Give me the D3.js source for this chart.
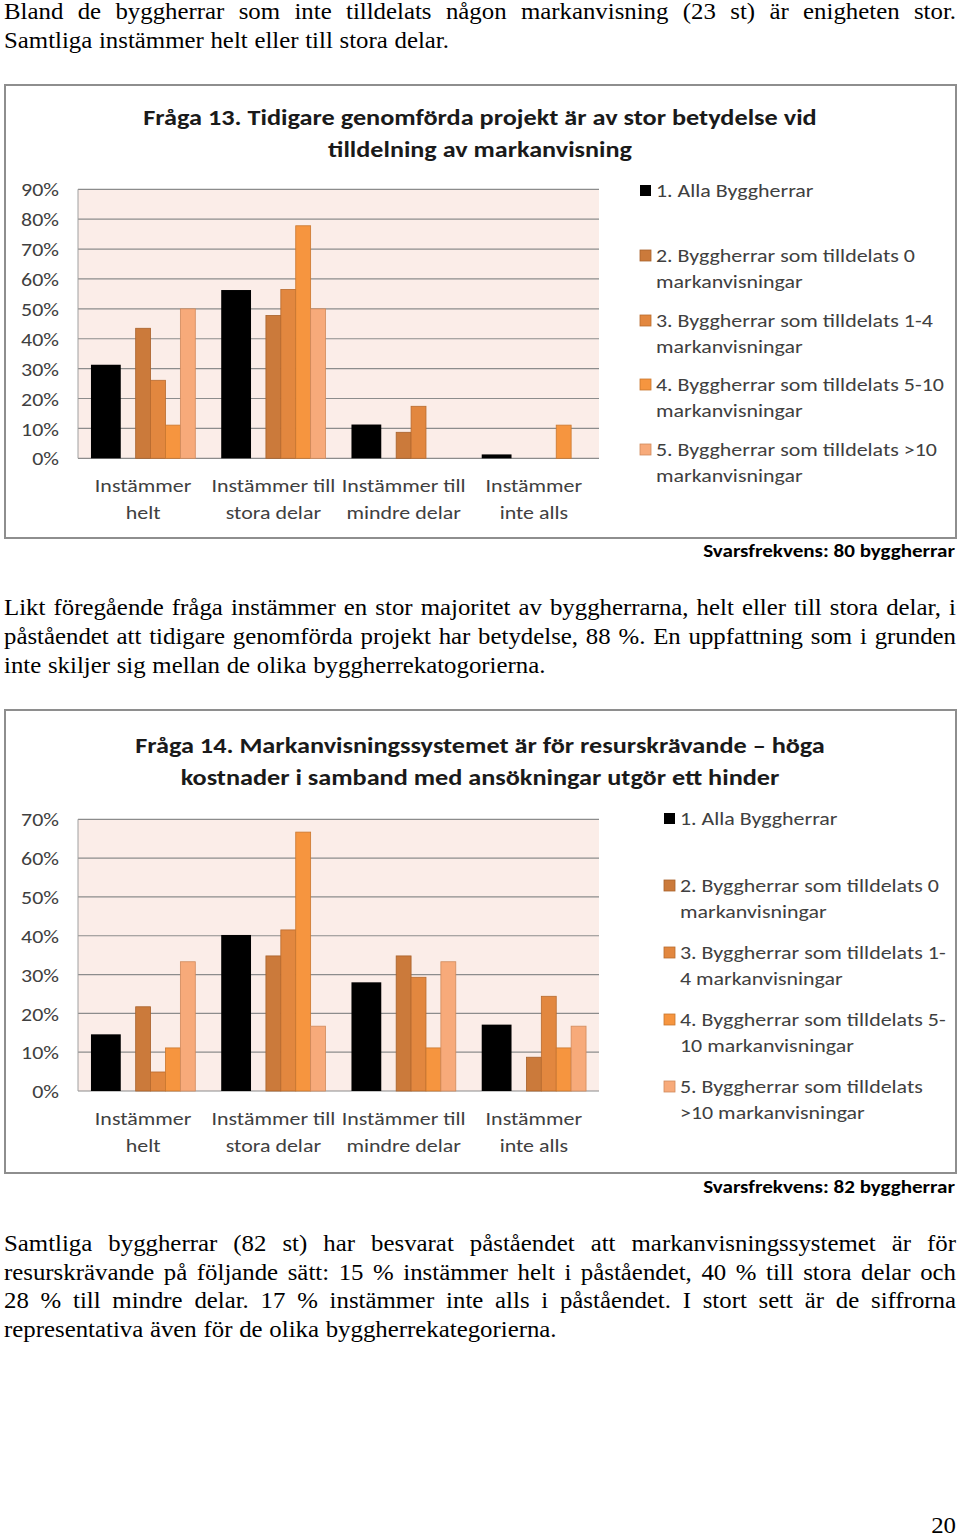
<!DOCTYPE html>
<html><head><meta charset="utf-8">
<script src="https://cdn.jsdelivr.net/npm/d3@7"></script>
<style>
html,body{margin:0;padding:0;background:#fff;}
svg{display:block;}
</style></head>
<body>
<svg id="page" width="960" height="1537"></svg>
<script>
// ---------- DATA ----------
const categoryLines = [["Instämmer","helt"],["Instämmer till","stora delar"],["Instämmer till","mindre delar"],["Instämmer","inte alls"]];
const categories = ["helt","stora","mindre","inte"];
const seriesNames = ["1. Alla Byggherrar","2. Byggherrar som tilldelats 0 markanvisningar","3. Byggherrar som tilldelats 1-4 markanvisningar","4. Byggherrar som tilldelats 5-10 markanvisningar","5. Byggherrar som tilldelats >10 markanvisningar"];

// Fråga 13 (percent)
const q13_alla   = [31.3, 56.3, 11.3, 1.3];
const q13_s0     = [43.5, 47.8, 8.7, 0];
const q13_s1_4   = [26.1, 56.5, 17.4, 0];
const q13_s5_10  = [11.1, 77.8, 0, 11.1];
const q13_s10    = [50, 50, 0, 0];
const q13_ticks  = ["0%","10%","20%","30%","40%","50%","60%","70%","80%","90%"];
const q13_title  = ["Fråga 13. Tidigare genomförda projekt är av stor betydelse vid","tilldelning av markanvisning"];
const q13_legend = [["1. Alla Byggherrar"],["2. Byggherrar som tilldelats 0","markanvisningar"],["3. Byggherrar som tilldelats 1-4","markanvisningar"],["4. Byggherrar som tilldelats 5-10","markanvisningar"],["5. Byggherrar som tilldelats >10","markanvisningar"]];
const q13_note   = "Svarsfrekvens: 80 byggherrar";

// Fråga 14 (percent)
const q14_alla   = [14.6, 40.2, 28.0, 17.1];
const q14_s0     = [21.7, 34.8, 34.8, 8.7];
const q14_s1_4   = [4.9, 41.5, 29.3, 24.4];
const q14_s5_10  = [11.1, 66.7, 11.1, 11.1];
const q14_s10    = [33.3, 16.7, 33.3, 16.7];
const q14_ticks  = ["0%","10%","20%","30%","40%","50%","60%","70%"];
const q14_title  = ["Fråga 14. Markanvisningssystemet är för resurskrävande – höga","kostnader i samband med ansökningar utgör ett hinder"];
const q14_legend = [["1. Alla Byggherrar"],["2. Byggherrar som tilldelats 0","markanvisningar"],["3. Byggherrar som tilldelats 1-","4 markanvisningar"],["4. Byggherrar som tilldelats 5-","10 markanvisningar"],["5. Byggherrar som tilldelats",">10 markanvisningar"]];
const q14_note   = "Svarsfrekvens: 82 byggherrar";

const para1 = [
  {t:"Bland de byggherrar som inte tilldelats någon markanvisning (23 st) är enigheten stor.", j:true},
  {t:"Samtliga instämmer helt eller till stora delar.", j:false}];
const para2 = [
  {t:"Likt föregående fråga instämmer en stor majoritet av byggherrarna, helt eller till stora delar, i", j:true},
  {t:"påståendet att tidigare genomförda projekt har betydelse, 88 %. En uppfattning som i grunden", j:true},
  {t:"inte skiljer sig mellan de olika byggherrekatogorierna.", j:false}];
const para3 = [
  {t:"Samtliga byggherrar (82 st) har besvarat påståendet att markanvisningssystemet är för", j:true},
  {t:"resurskrävande på följande sätt: 15 % instämmer helt i påståendet, 40 % till stora delar och", j:true},
  {t:"28 % till mindre delar. 17 % instämmer inte alls i påståendet. I stort sett är de siffrorna", j:true},
  {t:"representativa även för de olika byggherrekategorierna.", j:false}];
const pageNumber = "20";

// ---------- STYLE ----------
const colors = ["#000000","#CB7A3B","#E2873F","#F6953F","#F7AA7A"];
const strokes = ["#000000","#A8612B","#B86B2F","#C9772F","#D08A5C"];
const serif = "'Liberation Serif','Times New Roman',serif";
const sans = "Carlito, Calibri, Lato, 'Open Sans', sans-serif";
const bodySize = 23, bodySX = 1.08;
const chartSize = 19, chartSX = 1.155;

const svg = d3.select("#page");

function stext(parent, x, y, str, o){
  return parent.append("text")
    .attr("transform",`translate(${x},${y}) scale(${o.sx||1},1)`)
    .attr("font-family",o.family).attr("font-size",o.size)
    .attr("font-weight",o.weight||"normal").attr("fill",o.fill||"#000")
    .attr("text-anchor",o.anchor||"start").text(str);
}

// ---------- BODY TEXT ----------
function drawPara(lines, baseline0, lh){
  lines.forEach((ln,i)=>{
    const y = baseline0 + i*lh;
    const words = ln.t.split(" ");
    const g = svg.append("g");
    const nodes = words.map(w=> stext(g,0,y,w,{family:serif,size:bodySize,sx:bodySX}));
    const widths = nodes.map(n=>n.node().getComputedTextLength()*bodySX);
    const total = d3.sum(widths);
    const left = 4, right = 956;
    let gap = bodySize*0.27*bodySX;
    if (ln.j && words.length>1) gap = (right-left-total)/(words.length-1);
    let x = left;
    nodes.forEach((n,k)=>{ n.attr("transform",`translate(${x},${y}) scale(${bodySX},1)`); x += widths[k]+gap; });
  });
}
drawPara(para1, 19, 28.7);
drawPara(para2, 615, 29);
drawPara(para3, 1251, 28.7);
stext(svg, 956, 1533, pageNumber, {family:serif,size:bodySize,sx:bodySX,anchor:"end"});

// ---------- CHART ----------
function drawChart(cfg){
  const {box, plotTop, plotBottom, maxV, ticks, title, titleY, titleW, legend, legendX, legendY, note, noteY, series} = cfg;
  svg.append("rect").attr("x",box[0]).attr("y",box[1]).attr("width",box[2]-box[0]).attr("height",box[3]-box[1])
    .attr("fill","#fff").attr("stroke","#8E8E8E").attr("stroke-width",2);

  const x0 = d3.scaleBand().domain(categories).range([78,599]).paddingInner(0).paddingOuter(0);
  const x1 = d3.scaleBand().domain(d3.range(7)).range([0,x0.bandwidth()]).paddingInner(0).paddingOuter(0.87);
  const y = d3.scaleLinear().domain([0,maxV]).range([plotBottom, plotTop]);

  svg.append("rect").attr("x",78).attr("y",y(maxV)).attr("width",521).attr("height",y(0)-y(maxV)).attr("fill","#FBEDE8");

  const tickVals = ticks.map((t,i)=>i*10);
  svg.append("g").selectAll("line").data(tickVals).join("line")
    .attr("x1",78).attr("x2",599).attr("y1",d=>y(d)).attr("y2",d=>y(d))
    .attr("stroke","#8C8C8C").attr("stroke-width",1.2);
  svg.append("line").attr("x1",78).attr("x2",78).attr("y1",y(maxV)).attr("y2",y(0)).attr("stroke","#A0A0A0").attr("stroke-width",1);

  const yAxis = d3.axisLeft(y).tickValues(tickVals).tickFormat((d,i)=>ticks[i]).tickSize(0).tickPadding(0);
  const ya = svg.append("g").attr("transform","translate(59,0)").call(yAxis);
  ya.select(".domain").remove();
  ya.selectAll("text").attr("x",0).attr("dy","0.35em").attr("transform",`scale(${chartSX},1)`)
    .attr("font-family",sans).attr("font-size",chartSize).attr("fill","#404040");

  series.forEach((vals,si)=>{
    svg.append("g").selectAll("rect").data(vals.map((v,ci)=>({v,c:categories[ci]}))).join("rect")
      .filter(d=>d.v>0)
      .attr("x",d=> x0(d.c) + (si===0 ? x1(0) : x1(si+2)))
      .attr("width", si===0 ? 2*x1.bandwidth() : x1.bandwidth())
      .attr("y",d=>y(d.v)).attr("height",d=>y(0)-y(d.v))
      .attr("fill",colors[si]).attr("stroke",strokes[si]).attr("stroke-width",si===0?0:0.8);
  });

  categories.forEach((c,ci)=>{
    categoryLines[ci].forEach((t,li)=>{
      stext(svg, x0(c)+x0.bandwidth()/2, plotBottom+34+li*26.5, t,
        {family:sans,size:chartSize,sx:chartSX,anchor:"middle",fill:"#404040"});
    });
  });

  title.forEach((t,i)=>{
    const ty = titleY+i*32;
    const tt = stext(svg, 480, ty, t, {family:sans,size:22,weight:"bold",anchor:"middle",fill:"#1a1a1a"});
    const w = tt.node().getComputedTextLength();
    tt.attr("transform",`translate(480,${ty}) scale(${titleW[i]/w},1)`);
  });

  legend.forEach((lines,i)=>{
    const ys = legendY[i];
    svg.append("rect").attr("x",legendX).attr("y",ys-12).attr("width",11).attr("height",11)
      .attr("fill",colors[i]).attr("stroke",strokes[i]).attr("stroke-width",i===0?0:0.8);
    lines.forEach((t,li)=>{
      stext(svg, legendX+16, ys+li*26, t, {family:sans,size:chartSize,sx:chartSX,fill:"#404040"});
    });
  });

  const nt = stext(svg, 955, noteY, note, {family:sans,size:18,weight:"bold",anchor:"end",fill:"#000"});
  const nw = nt.node().getComputedTextLength();
  nt.attr("transform",`translate(955,${noteY}) scale(${252/nw},1)`);
}

drawChart({
  box:[5,85,956,538], plotTop:189.3, plotBottom:458.3, maxV:90, ticks:q13_ticks,
  title:q13_title, titleY:125, titleW:[674,304],
  legend:q13_legend, legendX:640, legendY:[197,262,327,391,456],
  note:q13_note, noteY:557,
  series:[q13_alla,q13_s0,q13_s1_4,q13_s5_10,q13_s10]
});
drawChart({
  box:[5,710,956,1173], plotTop:819.3, plotBottom:1091, maxV:70, ticks:q14_ticks,
  title:q14_title, titleY:753, titleW:[690,599],
  legend:q14_legend, legendX:664, legendY:[825,892,959,1026,1093],
  note:q14_note, noteY:1193,
  series:[q14_alla,q14_s0,q14_s1_4,q14_s5_10,q14_s10]
});
</script>
</body></html>
